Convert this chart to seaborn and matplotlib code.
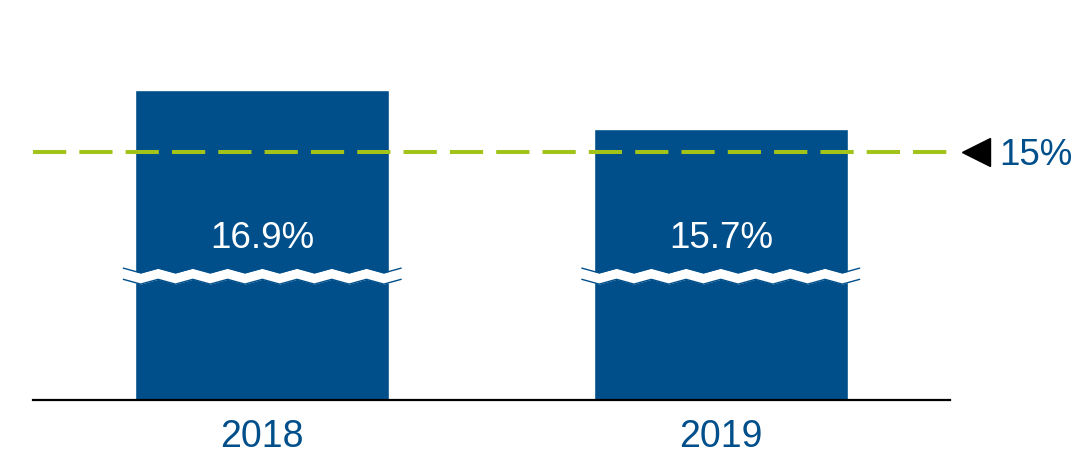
import numpy as np
import pandas as pd
import matplotlib
matplotlib.use("Agg")
import matplotlib.pyplot as plt
import matplotlib.transforms as mtransforms
import seaborn as sns

# Capital ratio by year
years = ["2018", "2019"]
ratios = [16.9, 15.7]
value_labels = ["16.9%", "15.7%"]
target = 15.0
target_label = "15%"

BLUE = "#004f8b"
GREEN = "#a2c31a"

sns.set_theme(style="white")
plt.rcParams["font.family"] = ["Liberation Sans", "DejaVu Sans"]

df = pd.DataFrame({"year": years, "ratio": ratios})

fig = plt.figure(figsize=(10.82, 4.54), dpi=100)
ax = fig.add_axes([33 / 1082, 54 / 454, 917 / 1082, 400 / 454])

bar_width = 0.554
sns.barplot(data=df, x="year", y="ratio", color=BLUE, width=bar_width,
            saturation=1, ax=ax, zorder=2)

# truncated value axis: the bars are cut by a break symbol
y_lo, y_hi = 7.39, 19.66
ax.set_ylim(y_lo, y_hi)
ax.set_xlim(-0.5, 1.5)

# target line
ax.axhline(target, xmin=0, xmax=1.002, color=GREEN, lw=2.9,
           dashes=(8.25, 3.25), zorder=3, clip_on=False)

# marker + label for the target
blend = mtransforms.blended_transform_factory(ax.transAxes, ax.transData)
ax.plot([1.0285], [target], marker="<", markersize=20, color="black",
        transform=blend, clip_on=False, zorder=4)
ax.text(1.054, target, target_label, transform=blend, ha="left",
        va="center_baseline", fontsize=26.5, color=BLUE)

# value labels inside the bars
for i, lab in enumerate(value_labels):
    ax.text(i, 12.33, lab, ha="center", va="center", fontsize=26.5,
            color="white", zorder=5)

# axis break zigzag across each bar
px_per_unit = 400 / (y_hi - y_lo)
break_y = 11.19
amp = 2.4 / px_per_unit
half_band = 5.6 / px_per_unit
ext = 0.026
period = 35 / 458.5
for i in range(len(years)):
    x0 = i - bar_width / 2 - ext
    x1 = i + bar_width / 2 + ext
    n = int(round((x1 - x0) / (period / 2)))
    xs = np.linspace(x0, x1, n + 1)
    zz = np.where(np.arange(n + 1) % 2 == 0, amp, -amp)
    ax.fill_between(xs, break_y + zz - half_band, break_y + zz + half_band,
                    color="white", lw=0, zorder=6)
    ax.plot(xs, break_y + zz + half_band, color=BLUE, lw=1.0, zorder=7)
    ax.plot(xs, break_y + zz - half_band, color=BLUE, lw=1.0, zorder=7)

# styling of axes
for side in ["top", "right", "left"]:
    ax.spines[side].set_visible(False)
ax.spines["bottom"].set_color("black")
ax.spines["bottom"].set_linewidth(1.6)
ax.spines["bottom"].set_zorder(8)
ax.set_yticks([])
ax.set_xlabel("")
ax.set_ylabel("")
ax.tick_params(axis="x", length=0, pad=13.5, labelsize=27, labelcolor=BLUE)

fig.savefig("out.png", dpi=100)
